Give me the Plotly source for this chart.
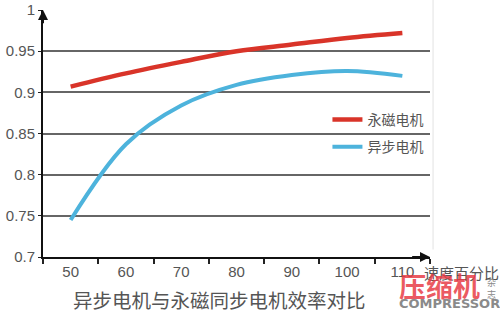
import plotly.graph_objects as go

speeds = ["50", "60", "70", "80", "90", "100", "110"]
pm_eff = [0.907, 0.923, 0.937, 0.950, 0.958, 0.966, 0.972]
im_eff = [0.745, 0.837, 0.884, 0.909, 0.921, 0.926, 0.920]
series_names = ["永磁电机", "异步电机"]
title_text = "异步电机与永磁同步电机效率对比"
x_unit = "速度百分比"

CJK = "Noto Sans CJK SC"
NUM = "Liberation Sans"

fig = go.Figure()
fig.add_trace(go.Scatter(x=speeds, y=pm_eff, mode="lines", name=series_names[0],
                         line=dict(color="#d93429", width=4.5, shape="spline"),
                         legend="legend"))
fig.add_trace(go.Scatter(x=speeds, y=im_eff, mode="lines", name=series_names[1],
                         line=dict(color="#4db3dc", width=4, shape="spline"),
                         legend="legend2"))

legend_common = dict(bgcolor="rgba(0,0,0,0)", font=dict(family=CJK, size=14, color="#555"),
                     xanchor="left", yanchor="middle", itemwidth=30)
fig.update_layout(
    width=500, height=311,
    margin=dict(l=43, r=70, t=10, b=54),
    paper_bgcolor="white", plot_bgcolor="white",
    showlegend=True,
    legend=dict(x=0.735, y=0.555, **legend_common),
    legend2=dict(x=0.735, y=0.445, **legend_common),
    xaxis=dict(type="category", range=[-0.5, 6.5], tickson="boundaries",
               automargin=False,
               ticks="outside", ticklen=5, tickcolor="#222", tickwidth=1.5,
               showline=True, linecolor="#111", linewidth=2, showgrid=False,
               tickfont=dict(family=NUM, size=15, color="#555")),
    yaxis=dict(range=[0.7, 1.0], dtick=0.05, tick0=0.7, automargin=False,
               ticks="outside", ticklen=3, tickcolor="#222",
               showline=True, linecolor="#111", linewidth=2,
               showgrid=True, gridcolor="#666", gridwidth=1.5,
               zeroline=False,
               tickfont=dict(family=NUM, size=15, color="#555")),
)

# faint frame edge on the right of the chart area
fig.add_shape(type="line", xref="x domain", yref="y domain", x0=1.008, x1=1.008,
              y0=1.04, y1=0.03, line=dict(color="#ececec", width=1.5), layer="below")

# axis arrows
fig.add_annotation(x=1.0, y=0, xref="x domain", yref="y domain", ax=0.95, ay=0,
                   axref="x domain", ayref="y domain", showarrow=True, arrowhead=2,
                   arrowsize=1, arrowwidth=2, arrowcolor="#111", text="")
fig.add_annotation(x=0, y=1.0, xref="x domain", yref="y domain", ax=0, ay=0.94,
                   axref="x domain", ayref="y domain", showarrow=True, arrowhead=2,
                   arrowsize=1, arrowwidth=2, arrowcolor="#111", text="")

# x unit label
fig.add_annotation(x=1.0, y=0, xref="paper", yref="paper", text=x_unit,
                   showarrow=False, xanchor="left", yanchor="middle", xshift=-8, yshift=-15,
                   font=dict(family=CJK, size=15, color="#555"))
# title at bottom
fig.add_annotation(x=0.455, y=0, xref="paper", yref="paper", text=title_text,
                   showarrow=False, xanchor="center", yanchor="middle", yshift=-42,
                   font=dict(family=CJK, size=19.5, color="#555"))
# watermark
fig.add_annotation(x=1.0, y=0, xref="paper", yref="paper", text="<b>压缩机</b>",
                   showarrow=False, xanchor="left", yanchor="middle", xshift=-33, yshift=-28,
                   font=dict(family=CJK, size=27, color="rgba(232,60,70,0.85)"))
fig.add_annotation(x=1.0, y=0, xref="paper", yref="paper", text="<b>COMPRESSOR</b>",
                   showarrow=False, xanchor="left", yanchor="middle", xshift=-33, yshift=-46,
                   font=dict(family="DejaVu Sans", size=13, color="#8a8a8a"))
fig.add_annotation(x=1.0, y=0, xref="paper", yref="paper", text="杂<br>志",
                   showarrow=False, xanchor="left", yanchor="middle", xshift=55, yshift=-31,
                   font=dict(family=CJK, size=9, color="#888"))

fig.write_html("out.html")
